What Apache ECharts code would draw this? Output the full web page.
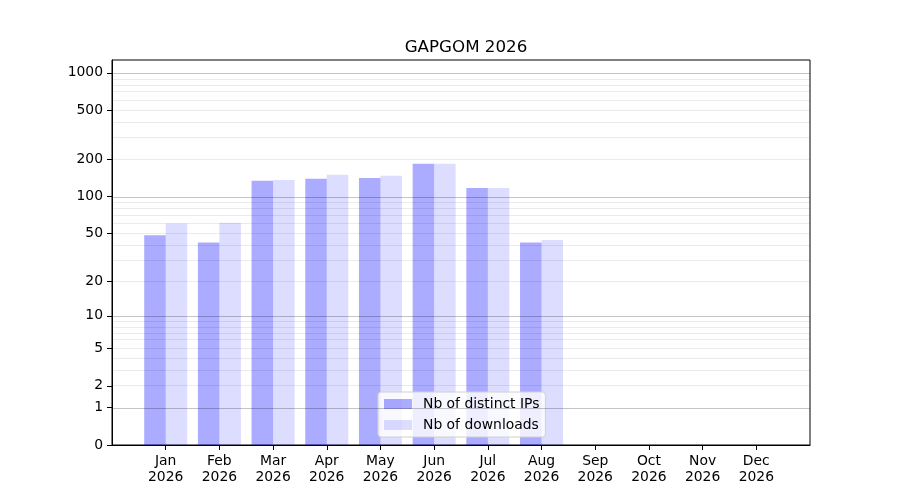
<!doctype html>
<html>
<head>
    <meta charset="utf-8">
    <title>GAPGOM 2026</title>
    <style>
        html, body { margin: 0; padding: 0; width: 100%; height: 100%; background: #fff; }
        #chart { width: 900px; height: 500px; }
    </style>
</head>
<body>
<div id="chart"></div>
<script src="https://cdn.jsdelivr.net/npm/echarts@6/dist/echarts.min.js"></script>
<script>
    // data
    var months = ['Jan', 'Feb', 'Mar', 'Apr', 'May', 'Jun', 'Jul', 'Aug', 'Sep', 'Oct', 'Nov', 'Dec'];
    var year = '2026';
    var distinctIPs = [48, 42, 134, 139, 141, 184, 117, 42, 0, 0, 0, 0];
    var downloads = [60, 61, 136, 150, 147, 184, 117, 44, 0, 0, 0, 0];
    var yTicks = [0, 1, 2, 5, 10, 20, 50, 100, 200, 500, 1000];
    var majorGrid = [1, 10, 100, 1000];
    var minorGrid = [2, 3, 4, 5, 6, 7, 8, 9, 20, 30, 40, 50, 60, 70, 80, 90, 200, 300, 400, 500, 600, 700, 800, 900];
    var yTop = 1270;

    // y scale is log10(1 + v)
    function tr(v) { return Math.log10(1 + v); }

    var font = 'DejaVu Sans';
    // one empty slot each side so the axis runs from -1 to 12
    var cats = [''].concat(months.map(function (m) { return m + '\n' + year; }), ['']);
    function pad(arr) { return ['-'].concat(arr.map(tr), ['-']); }

    // translucent grid so it darkens the bars like the original
    var gridLines = [];
    minorGrid.forEach(function (v) {
        gridLines.push({ yAxis: tr(v), lineStyle: { color: 'rgba(0,0,0,0.08)', width: 1, type: 'solid' } });
    });
    majorGrid.forEach(function (v) {
        gridLines.push({ yAxis: tr(v), lineStyle: { color: 'rgba(0,0,0,0.23)', width: 1, type: 'solid' } });
    });

    var myChart = echarts.init(document.getElementById('chart'), null, { renderer: 'canvas' });
    var option = {
        animation: false,
        backgroundColor: '#fff',
        textStyle: { fontFamily: font },
        title: {
            text: 'GAPGOM 2026',
            left: 461, top: 34, textAlign: 'center',
            textStyle: { fontFamily: font, fontSize: 16.7, fontWeight: 'normal', color: '#000' }
        },
        grid: {
            left: 112, right: 90, top: 60, bottom: 55,
            show: true, borderColor: '#000', borderWidth: 1, backgroundColor: 'transparent'
        },
        legend: {
            data: ['Nb of distinct IPs', 'Nb of downloads'],
            orient: 'vertical',
            left: 378, top: 392,
            padding: [5, 6, 5, 6],
            itemGap: 7,
            itemWidth: 28, itemHeight: 10,
            icon: 'rect',
            backgroundColor: 'rgba(255,255,255,0.8)',
            borderColor: '#d0d0d0', borderWidth: 1, borderRadius: 3,
            textStyle: { fontFamily: font, fontSize: 13.9, color: '#000', padding: [0, 0, 0, 6] }
        },
        xAxis: {
            type: 'category',
            data: cats,
            boundaryGap: false,
            axisLine: { lineStyle: { color: '#000' } },
            axisTick: {
                length: 5, lineStyle: { color: '#000' },
                interval: function (i) { return i > 0 && i < cats.length - 1; }
            },
            axisLabel: {
                interval: 0, margin: 8, color: '#000',
                fontFamily: font, fontSize: 13.9, lineHeight: 16
            },
            splitLine: { show: false }
        },
        yAxis: {
            type: 'value',
            min: 0, max: tr(yTop),
            axisLine: { show: true, lineStyle: { color: '#000' } },
            axisTick: { show: true, length: 5, lineStyle: { color: '#000' }, customValues: yTicks.map(tr) },
            axisLabel: {
                margin: 9, color: '#000', fontFamily: font, fontSize: 13.9,
                customValues: yTicks.map(tr),
                formatter: function (v) { return String(Math.round(Math.pow(10, v) - 1)); }
            },
            splitLine: { show: false }
        },
        series: [
            {
                type: 'line', data: [], silent: true, z: 1,
                markLine: { symbol: 'none', silent: true, label: { show: false }, data: gridLines }
            },
            {
                name: 'Nb of distinct IPs', type: 'bar', z: 2,
                data: pad(distinctIPs),
                barWidth: 21.5, barGap: '0%',
                itemStyle: { color: 'rgba(0,0,255,0.33)' }
            },
            {
                name: 'Nb of downloads', type: 'bar', z: 2,
                data: pad(downloads),
                barWidth: 21.5, barGap: '0%',
                itemStyle: { color: 'rgba(0,0,255,0.135)' }
            }
        ]
    };
    myChart.setOption(option);
</script>
</body>
</html>
